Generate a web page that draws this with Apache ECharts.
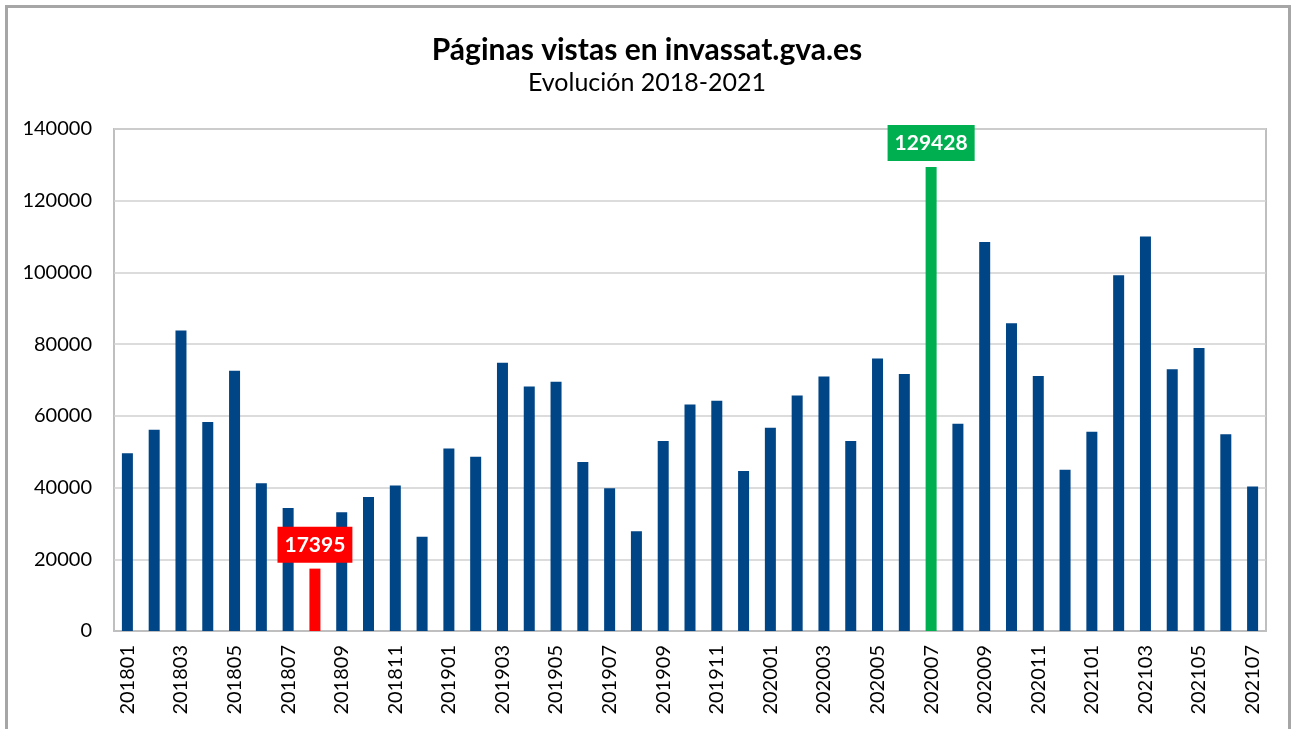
<!DOCTYPE html>
<html>
<head>
<meta charset="utf-8">
<script src="https://cdn.jsdelivr.net/npm/echarts@6/dist/echarts.min.js"></script>
<style>
  html, body { margin: 0; padding: 0; background: #fff; }
  #main { width: 1294px; height: 729px; }
</style>
</head>
<body>
<div id="main"></div>
<script>
// Meses (AAAAMM)
var meses = [
  '201801', '201802', '201803', '201804', '201805', '201806', '201807', '201808', '201809', '201810', '201811', '201812',
  '201901', '201902', '201903', '201904', '201905', '201906', '201907', '201908', '201909', '201910', '201911', '201912',
  '202001', '202002', '202003', '202004', '202005', '202006', '202007', '202008', '202009', '202010', '202011', '202012',
  '202101', '202102', '202103', '202104', '202105', '202106', '202107'
];

// Páginas vistas por mes
var paginasVistas = [
  49600, 56100, 83800, 58300, 72600, 41200, 34300, 17395, 33100, 37400, 40600, 26300,
  50900, 48600, 74800, 68200, 69500, 47100, 39800, 27800, 53000, 63200, 64200, 44600,
  56700, 65700, 71000, 53000, 76000, 71700, 129428, 57800, 108500, 85800, 71100, 45000,
  55600, 99200, 110000, 73000, 78900, 54900, 40300
];

// Meses destacados: mínimo y máximo
var mesMinimo = '201808';
var mesMaximo = '202007';

var fuente = 'Lato, "Noto Sans", sans-serif';

var datos = paginasVistas.map(function (v, i) {
  var item = { value: v };
  var color = null;
  if (meses[i] === mesMinimo) color = '#ff0000';
  if (meses[i] === mesMaximo) color = '#00b050';
  if (color) {
    item.itemStyle = { color: color };
    item.label = {
      show: true,
      position: 'top',
      distance: 6,
      color: '#fff',
      fontWeight: 'bold',
      fontSize: 21,
      fontFamily: fuente,
      backgroundColor: color,
      padding: [8, 7, 7, 7]
    };
  }
  return item;
});

var myChart = echarts.init(document.getElementById('main'));

var option = {
  animation: false,
  backgroundColor: '#fff',
  title: {
    text: 'Páginas vistas en invassat.gva.es',
    subtext: 'Evolución 2018-2021',
    left: 'center',
    top: 30,
    itemGap: 5,
    textStyle: { fontFamily: fuente, fontSize: 30, fontWeight: 'bold', color: '#000' },
    subtextStyle: { fontFamily: fuente, fontSize: 25, color: '#000' }
  },
  graphic: [{
    type: 'rect',
    shape: { x: 6.5, y: 6.5, width: 1283, height: 740 },
    style: { fill: null, stroke: '#a6a6a6', lineWidth: 3 },
    silent: true
  }],
  grid: {
    left: 114,
    right: 28,
    top: 129,
    bottom: 98,
    show: true,
    borderColor: '#bfbfbf',
    borderWidth: 2
  },
  xAxis: {
    type: 'category',
    data: meses,
    axisLine: { lineStyle: { color: '#bfbfbf', width: 2 } },
    axisTick: { show: false },
    axisLabel: {
      interval: 1,
      rotate: 90,
      margin: 14,
      fontSize: 20,
      fontFamily: fuente,
      color: '#000'
    }
  },
  yAxis: {
    type: 'value',
    min: 0,
    max: 140000,
    interval: 20000,
    axisLine: { show: false },
    axisTick: { show: false },
    splitLine: { lineStyle: { color: '#d0d0d0', width: 1.5 } },
    axisLabel: {
      fontSize: 20,
      fontFamily: fuente,
      color: '#000',
      margin: 22,
      formatter: function (v) { return String(v); }
    }
  },
  series: [{
    name: 'Páginas vistas',
    type: 'bar',
    data: datos,
    barWidth: 11,
    itemStyle: { color: '#004586' }
  }]
};

myChart.setOption(option);
</script>
</body>
</html>
